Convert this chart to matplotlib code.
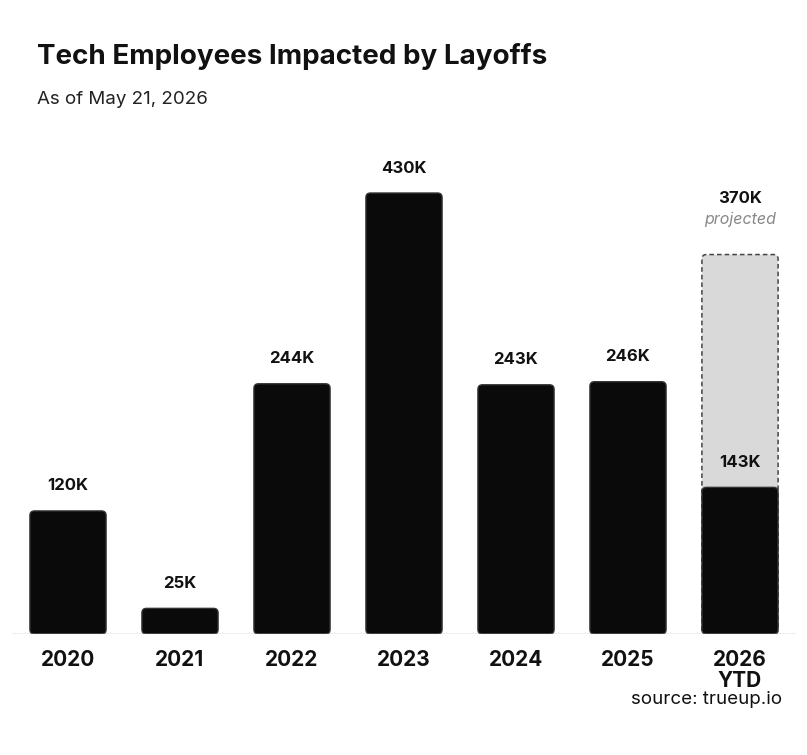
import matplotlib
matplotlib.use("Agg")
from matplotlib import pyplot as plt
from matplotlib.patches import FancyBboxPatch

years = ['2020', '2021', '2022', '2023', '2024', '2025', '2026\nYTD']
values = [120, 25, 244, 430, 243, 246, 143]
labels = ['120K', '25K', '244K', '430K', '243K', '246K', '143K']
projected = 370
projected_label = '370K'

plt.rcParams['font.family'] = ['Inter', 'DejaVu Sans']

fig = plt.figure(figsize=(8.07, 7.55), dpi=100)
ax = fig.add_axes([12/807, 121/755, 784/807, 461.5/755])
ax.set_xlim(-0.5, 6.5)
ax.set_ylim(0, 450)
ax.axis('off')

w = 0.68
asp = 112 / 1.0256  # data y per data x in pixels


def rbar(x, h, **kw):
    p = FancyBboxPatch((x - w/2, 0), w, h,
                       boxstyle="round,pad=0,rounding_size=0.04",
                       mutation_aspect=asp, **kw)
    ax.add_patch(p)


# projected bar behind
rbar(6, projected, facecolor='#d9d9d9', edgecolor='#444444',
     linestyle=(0, (3, 2)), linewidth=1.1)

for i, v in enumerate(values):
    rbar(i, v, facecolor='#0a0a0a', edgecolor='#333333', linewidth=1)
    ax.text(i, v + 17, labels[i], ha='center', va='bottom',
            fontsize=12, fontweight='bold', color='#111111')

ax.text(6, projected + 47, projected_label, ha='center', va='bottom',
        fontsize=12, fontweight='bold', color='#111111')
ax.text(6, projected + 27, 'projected', ha='center', va='bottom',
        fontsize=11.5, style='italic', color='#888888')

ax.axhline(0, color='#aaaaaa', linewidth=1)

for i, y in enumerate(years):
    ax.text(i, -16, y, ha='center', va='top', fontsize=15,
            fontweight='bold', color='#111111', linespacing=1.05)

fig.text(37/807, 1 - 57/755, 'Tech Employees Impacted by Layoffs',
         fontsize=20, fontweight='bold', color='#111111', va='center')
fig.text(37/807, 1 - 100/755, 'As of May 21, 2026',
         fontsize=13.5, color='#222222', va='center')
fig.text(782/807, 1 - 700/755, 'source: trueup.io',
         fontsize=13.5, color='#111111', va='center', ha='right')

fig.savefig('out.png', dpi=100, facecolor='white')
